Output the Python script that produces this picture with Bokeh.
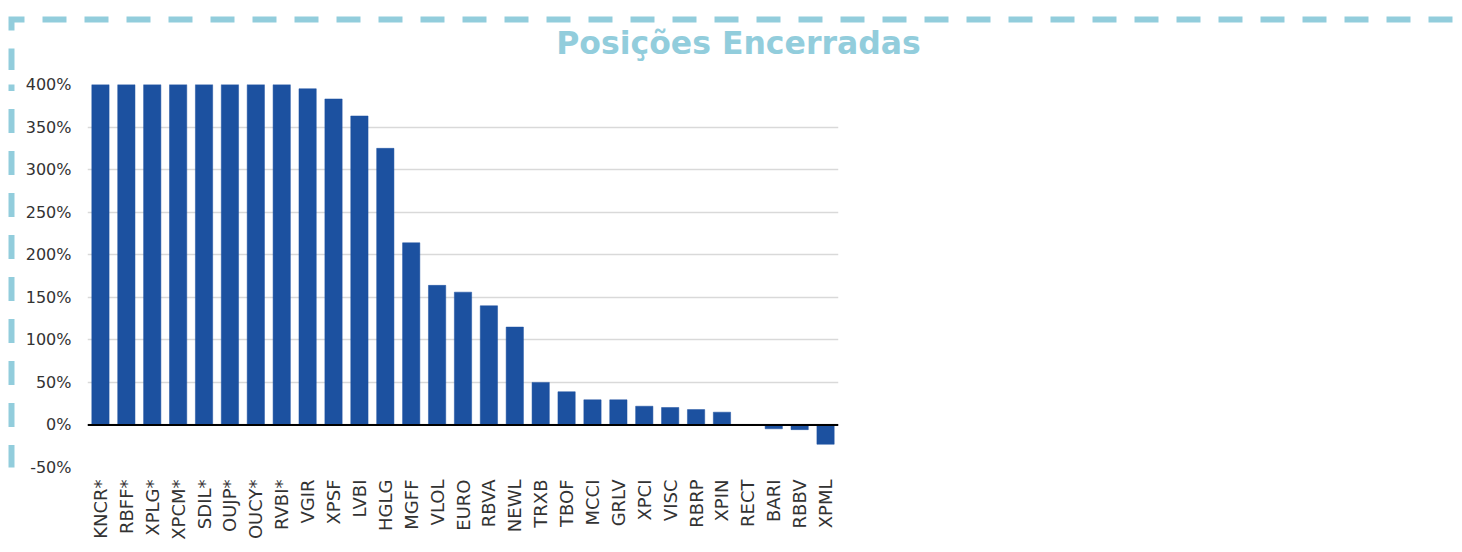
import math
from bokeh.plotting import figure
from bokeh.models import FactorRange, Range1d, Span, FixedTicker, NumeralTickFormatter, Label
from bokeh.layouts import column, row
from bokeh.core.properties import value
from bokeh.embed import file_html
from bokeh.resources import INLINE

# ---- data ----
title_text = "Posições Encerradas"
categories = ["KNCR*", "RBFF*", "XPLG*", "XPCM*", "SDIL*", "OUJP*", "OUCY*", "RVBI*",
              "VGIR", "XPSF", "LVBI", "HGLG", "MGFF", "VLOL", "EURO", "RBVA", "NEWL",
              "TRXB", "TBOF", "MCCI", "GRLV", "XPCI", "VISC", "RBRP", "XPIN", "RECT",
              "BARI", "RBBV", "XPML"]
returns = [4.00, 4.00, 4.00, 4.00, 4.00, 4.00, 4.00, 4.00,
           3.95, 3.83, 3.63, 3.25, 2.14, 1.64, 1.56, 1.40, 1.15,
           0.50, 0.39, 0.295, 0.295, 0.22, 0.205, 0.18, 0.15, 0.0,
           -0.045, -0.055, -0.227]
y_ticks = [-0.5, 0.0, 0.5, 1.0, 1.5, 2.0, 2.5, 3.0, 3.5, 4.0]

ACCENT = "#92CDDC"
BAR = "#1C51A0"
TEXT = "#333333"
FONT = "DejaVu Sans"


def blank(width, height, xr, yr):
    f = figure(width=width, height=height, x_range=Range1d(*xr), y_range=Range1d(*yr),
               output_backend="svg", toolbar_location=None, min_border=0,
               x_axis_type=None, y_axis_type=None)
    f.outline_line_color = None
    f.grid.visible = False
    f.border_fill_color = "white"
    f.background_fill_color = "white"
    return f


# ---- top strip: dashed border (top + corner) and title ----
top = blank(1462, 70, (0, 1462), (70, 0))
top.line(x=[11, 11, 1520], y=[72, 19, 19], line_color=ACCENT, line_width=6,
         line_dash="24 18", line_join="miter", line_cap="butt")
top.add_layout(Label(x=738, y=24.5, text=title_text, text_align="center",
                     text_baseline="top", text_font=FONT, text_font_style="bold",
                     text_font_size="31.5px", text_color=ACCENT))

# ---- left strip: dashed border ----
left = blank(22, 482, (0, 22), (552, 70))
left.line(x=[11, 11], y=[48, 620], line_color=ACCENT, line_width=6,
          line_dash="24 18", line_cap="butt")

# ---- main bar chart ----
p = figure(x_range=FactorRange(factors=categories), y_range=Range1d(-0.5, 4.0),
           width=1440, height=482, min_border_left=63, min_border_right=624,
           min_border_top=14, min_border_bottom=85,
           output_backend="svg", toolbar_location=None)
p.outline_line_color = None
p.background_fill_color = "white"
p.border_fill_color = "white"

p.vbar(x=categories, top=returns, width=0.667, fill_color=BAR, line_color=BAR, line_width=0.5)

p.xgrid.grid_line_color = None
p.ygrid.ticker = FixedTicker(ticks=y_ticks)
p.ygrid.grid_line_color = "#D9D9D9"
p.ygrid.grid_line_width = 1.5
p.ygrid.level = "underlay"

p.add_layout(Span(location=0, dimension="width", line_color="#000000", line_width=2))

p.yaxis.ticker = FixedTicker(ticks=y_ticks)
p.yaxis.formatter = NumeralTickFormatter(format="0%")
p.yaxis.axis_line_color = None
p.yaxis.major_tick_line_color = None
p.yaxis.minor_tick_line_color = None
p.yaxis.major_tick_out = 0
p.yaxis.major_tick_in = 0
p.yaxis.major_label_standoff = 16
p.yaxis.major_label_text_font = FONT
p.yaxis.major_label_text_font_size = "16px"
p.yaxis.major_label_text_color = TEXT

p.xaxis.axis_line_color = None
p.xaxis.major_tick_line_color = None
p.xaxis.minor_tick_line_color = None
p.xaxis.major_tick_out = 0
p.xaxis.major_tick_in = 0
p.xaxis.major_label_orientation = math.pi / 2
p.xaxis.major_label_standoff = 12
p.xaxis.major_label_text_font = FONT
p.xaxis.major_label_text_font_size = "18px"
p.xaxis.major_label_text_color = TEXT

layout = column(top, row(left, p, spacing=0), spacing=0)

open("out.html", "w").write(file_html(layout, INLINE))
